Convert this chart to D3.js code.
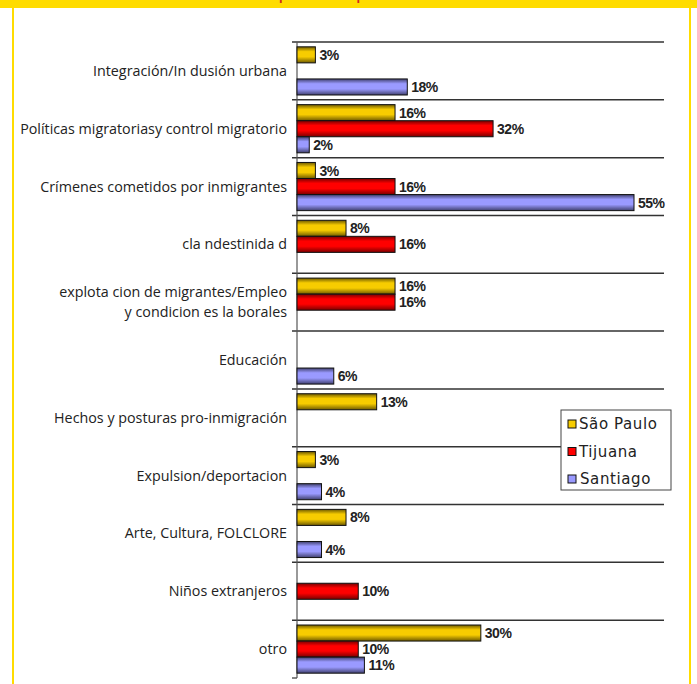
<!DOCTYPE html>
<html lang="es">
<head>
<meta charset="UTF-8">
<title>Temas por ciudad</title>
<script src="https://d3js.org/d3.v7.min.js"></script>
<style>
    body { margin: 0; background: #fff; }
    #chart { width: 697px; height: 684px; }
</style>
</head>
<body>
<div id="chart"></div>
<script>
// categories (top to bottom), long labels split over lines
var categories = [
    ["Integración/In dusión urbana"],
    ["Políticas migratoriasy control migratorio"],
    ["Crímenes cometidos por inmigrantes"],
    ["cla ndestinida d"],
    ["explota cion de migrantes/Empleo", "y condicion es  la borales"],
    ["Educación"],
    ["Hechos y posturas pro-inmigración"],
    ["Expulsion/deportacion"],
    ["Arte, Cultura, FOLCLORE"],
    ["Niños extranjeros"],
    ["otro"]
];
var cities = ["São Paulo", "Tijuana", "Santiago"];
// percentages per city, null = no bar
var saoPaulo = [3, 16, 3, 8, 16, null, 13, 3, 8, null, 30];
var tijuana  = [null, 32, 16, 16, 16, null, null, null, null, 10, 10];
var santiago = [18, 2, 55, null, null, 6, null, 4, 4, null, 11];
var series = [saoPaulo, tijuana, santiago];

var W = 697, H = 684;
var colors = [
    {bright: "#f7cc00", dark: "#6e5a00"},
    {bright: "#ff0000", dark: "#7a0000"},
    {bright: "#9a9aff", dark: "#40406e"}
];

var svg = d3.select("#chart").append("svg")
    .attr("width", W).attr("height", H);

var defs = svg.append("defs");
colors.forEach(function(c, i) {
    var g = defs.append("linearGradient").attr("id", "grad" + i)
        .attr("x1", 0).attr("y1", 0).attr("x2", 0).attr("y2", 1);
    g.append("stop").attr("offset", "0%").attr("stop-color", c.dark);
    g.append("stop").attr("offset", "30%").attr("stop-color", c.bright);
    g.append("stop").attr("offset", "62%").attr("stop-color", c.bright);
    g.append("stop").attr("offset", "100%").attr("stop-color", c.dark);
});

// yellow frame and clipped red title
svg.append("rect").attr("x", 0).attr("y", 0).attr("width", W).attr("height", 8).attr("fill", "#ffdc00");
svg.append("rect").attr("x", 12).attr("y", 0).attr("width", 2).attr("height", H).attr("fill", "#ffdc00");
svg.append("rect").attr("x", 689).attr("y", 0).attr("width", 2).attr("height", H).attr("fill", "#ffdc00");

var title = svg.append("text")
    .attr("y", -0.5)
    .attr("font-family", "Liberation Sans, Arial, sans-serif")
    .attr("font-weight", "bold")
    .attr("font-size", 13)
    .attr("fill", "#d22a1e")
    .text("Principales temas por ciudad");
// put the two "p" descenders where they show in the frame
var tn = title.node();
var p1 = tn.getStartPositionOfChar(6).x, p2 = tn.getStartPositionOfChar(17).x;
var fs = 13 * 74 / (p2 - p1);
title.attr("font-size", fs);
p1 = tn.getStartPositionOfChar(6).x;
title.attr("x", 279 - p1);

// scales
var x = d3.scaleLinear().domain([0, 55]).range([297, 634]);
var y = d3.scaleBand().domain(d3.range(categories.length)).range([42, 678]);
var sub = d3.scaleBand().domain(d3.range(cities.length)).range([0, y.bandwidth()]).paddingOuter(0.3);

// gridlines at band boundaries
var bounds = d3.range(categories.length + 1).map(function(i) { return 42 + i * y.step(); });
svg.selectAll("line.grid").data(bounds.slice(0, -1)).enter().append("line")
    .attr("class", "grid")
    .attr("x1", 292).attr("x2", 664)
    .attr("y1", function(d) { return d; }).attr("y2", function(d) { return d; })
    .attr("stroke", "#333").attr("stroke-width", 1.5);
svg.append("line").attr("x1", 292).attr("x2", 297)
    .attr("y1", bounds[bounds.length - 1]).attr("y2", bounds[bounds.length - 1])
    .attr("stroke", "#333").attr("stroke-width", 1.2);
svg.append("line").attr("x1", 297).attr("x2", 297).attr("y1", 42).attr("y2", bounds[bounds.length - 1])
    .attr("stroke", "#555").attr("stroke-width", 1.2);

// category labels
var cat = svg.selectAll("text.cat").data(categories).enter().append("text")
    .attr("class", "cat")
    .attr("text-anchor", "end")
    .attr("font-family", "Open Sans, sans-serif")
    .attr("font-size", 14.3)
    .attr("fill", "#222");
cat.each(function(lines, i) {
    var cy = y(i) + y.bandwidth() / 2;
    var t = d3.select(this);
    lines.forEach(function(s, k) {
        t.append("tspan").attr("x", 287)
            .attr("y", cy + (k - (lines.length - 1) / 2) * 20)
            .attr("dy", "0.35em").text(s);
    });
});

// bars
var bars = [];
series.forEach(function(vals, si) {
    vals.forEach(function(v, ci) {
        if (v !== null) bars.push({s: si, c: ci, v: v});
    });
});
svg.selectAll("rect.bar").data(bars).enter().append("rect")
    .attr("class", "bar")
    .attr("x", x(0))
    .attr("y", function(d) { return y(d.c) + sub(d.s); })
    .attr("width", function(d) { return x(d.v) - x(0); })
    .attr("height", sub.bandwidth())
    .attr("fill", function(d) { return "url(#grad" + d.s + ")"; })
    .attr("stroke", "#111").attr("stroke-width", 1);

svg.selectAll("text.val").data(bars).enter().append("text")
    .attr("class", "val")
    .attr("x", function(d) { return x(d.v) + 4; })
    .attr("y", function(d) { return y(d.c) + sub(d.s) + sub.bandwidth() / 2; })
    .attr("dy", "0.36em")
    .attr("font-family", "Liberation Sans, Arial, sans-serif")
    .attr("font-weight", "bold")
    .attr("font-size", 14)
    .attr("letter-spacing", -0.5)
    .attr("fill", "#222")
    .text(function(d) { return d.v + "%"; });

// legend
var legend = svg.append("g").attr("transform", "translate(561,410)");
legend.append("rect").attr("width", 110).attr("height", 80)
    .attr("fill", "#fff").attr("stroke", "#444").attr("stroke-width", 1);
var items = legend.selectAll("g.item").data(cities).enter().append("g")
    .attr("class", "item")
    .attr("transform", function(d, i) { return "translate(0," + (13 + i * 27.5) + ")"; });
items.append("rect").attr("x", 7).attr("y", -3).attr("width", 8).attr("height", 8)
    .attr("fill", function(d, i) { return colors[i].bright; })
    .attr("stroke", "#111").attr("stroke-width", 1);
items.append("text").attr("x", function(d, i) { return i === 2 ? 19 : 18; }).attr("y", 1)
    .attr("dy", "0.35em")
    .attr("font-family", "DejaVu Sans, sans-serif")
    .attr("font-size", 15)
    .attr("letter-spacing", 0.6)
    .attr("fill", "#222")
    .text(function(d) { return d; });
</script>
</body>
</html>
